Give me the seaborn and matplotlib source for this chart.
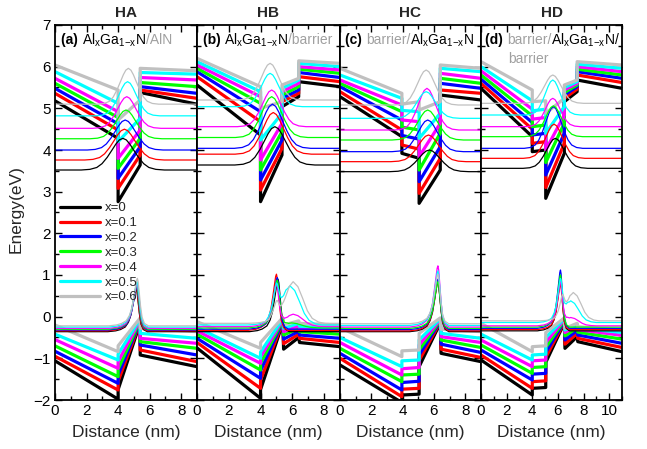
import numpy as np
import pandas as pd
import seaborn as sns
import matplotlib
matplotlib.use("Agg")
import matplotlib.pyplot as plt
from matplotlib.lines import Line2D
from matplotlib.ticker import MultipleLocator
import matplotlib.transforms as mtransforms

# ---------------- data ----------------
x_labels = ["x=0", "x=0.1", "x=0.2", "x=0.3", "x=0.4", "x=0.5", "x=0.6"]
colors = ["#000000", "#ff0000", "#0000ff", "#00ff00", "#ff00ff", "#00ffff", "#c0c0c0"]
panel_titles = ["HA", "HB", "HC", "HD"]
panel_xmax = [9, 9, 9, 11]

# Panel (a): band edges (vertex positions / energies for each x)
a_cb_d = [0, 4, 4, 5.4, 5.4, 9]
a_cb = [[5.18, 4.28, 2.76, 3.64, 5.38, 5.10],
        [5.36, 4.48, 3.08, 3.88, 5.44, 5.24],
        [5.48, 4.63, 3.32, 4.08, 5.52, 5.36],
        [5.60, 4.78, 3.56, 4.28, 5.62, 5.52],
        [5.72, 4.92, 3.80, 4.48, 5.74, 5.68],
        [5.88, 5.12, 4.20, 4.76, 5.86, 5.82],
        [6.04, 5.44, 4.72, 5.20, 5.96, 5.90]]
a_vb_d = [0, 4, 4, 5.4, 5.4, 9]
a_vb = [[-1.06, -1.98, -1.75, -0.15, -0.92, -1.20],
        [-0.95, -1.76, -1.55, -0.13, -0.80, -1.08],
        [-0.83, -1.60, -1.40, -0.11, -0.68, -0.92],
        [-0.70, -1.44, -1.26, -0.09, -0.60, -0.76],
        [-0.55, -1.24, -1.08, -0.07, -0.52, -0.64],
        [-0.42, -1.04, -0.90, -0.05, -0.40, -0.52],
        [-0.20, -0.84, -0.70, -0.03, -0.28, -0.36]]
a_el_base = [3.52, 3.76, 4.00, 4.27, 4.52, 4.82, 5.10]
a_el_peak = [4.28, 4.50, 4.72, 4.96, 5.28, 5.64, 5.96]
a_el_pos = [4.30, 4.40, 4.45, 4.50, 4.55, 4.60, 4.65]
a_el_w = [1.10, 1.05, 1.00, 0.95, 0.90, 0.85, 0.80]
a_h_base = [-0.36, -0.34, -0.32, -0.30, -0.28, -0.25, -0.22]
a_h_amp1 = [1.02, 1.04, 1.04, 1.06, 1.08, 1.09, 1.14]
a_h_pos1 = [5.15, 5.15, 5.18, 5.18, 5.20, 5.20, 5.22]
a_h_amp2 = [0, 0, 0, 0, 0, 0, 0]
a_h_pos2 = [6.0, 6.0, 6.0, 6.0, 6.0, 6.0, 6.0]

# Panel (b)
b_cb_d = [0, 4, 4, 5.35, 5.35, 6.4, 6.4, 9]
b_cb = [[5.56, 4.36, 2.76, 3.88, 5.04, 5.28, 5.64, 5.52],
        [5.76, 4.68, 3.04, 4.04, 5.16, 5.36, 5.76, 5.64],
        [5.88, 4.92, 3.28, 4.24, 5.24, 5.44, 5.86, 5.74],
        [5.96, 5.12, 3.52, 4.44, 5.32, 5.52, 5.94, 5.84],
        [6.04, 5.28, 3.76, 4.64, 5.40, 5.60, 6.00, 5.92],
        [6.12, 5.40, 4.24, 4.88, 5.48, 5.68, 6.08, 6.00],
        [6.20, 5.52, 5.00, 5.16, 5.56, 5.72, 6.14, 6.08]]
b_vb_d = [0, 4, 4, 5.4, 5.45, 6.4, 6.45, 9]
b_vb = [[-0.75, -1.96, -1.75, -0.15, -0.78, -0.50, -0.62, -0.72],
        [-0.62, -1.72, -1.52, -0.13, -0.65, -0.42, -0.52, -0.62],
        [-0.52, -1.48, -1.30, -0.11, -0.54, -0.35, -0.44, -0.52],
        [-0.42, -1.28, -1.12, -0.09, -0.44, -0.28, -0.36, -0.42],
        [-0.34, -1.12, -0.97, -0.07, -0.36, -0.22, -0.29, -0.34],
        [-0.26, -1.00, -0.85, -0.05, -0.28, -0.16, -0.23, -0.28],
        [-0.12, -0.76, -0.62, -0.02, -0.20, -0.10, -0.16, -0.20]]
b_el_base = [3.64, 3.90, 4.04, 4.30, 4.56, 5.04, 5.20]
b_el_peak = [4.56, 4.90, 5.10, 5.28, 5.44, 5.84, 6.08]
b_el_pos = [4.90, 4.80, 4.75, 4.70, 4.70, 4.60, 4.60]
b_el_w = [1.05, 1.00, 1.00, 0.95, 0.90, 0.85, 0.85]
b_h_base = [-0.36, -0.33, -0.30, -0.27, -0.24, -0.20, -0.16]
b_h_amp1 = [1.26, 1.35, 1.24, 1.12, 0.98, 0.76, 0.41]
b_h_pos1 = [5.10, 5.00, 5.05, 5.05, 5.00, 5.00, 5.00]
b_h_amp2 = [0, 0, 0, 0.12, 0.30, 0.94, 1.00]
b_h_pos2 = [6.0, 6.0, 6.0, 5.95, 6.05, 5.85, 6.05]

# Panel (c)
c_cb_d = [0, 3.95, 3.95, 5.05, 5.05, 6.4, 6.4, 9]
c_cb = [[5.28, 4.32, 3.92, 3.80, 2.72, 3.52, 5.32, 5.20],
        [5.40, 4.48, 4.12, 4.02, 2.96, 3.80, 5.44, 5.36],
        [5.52, 4.72, 4.35, 4.26, 3.24, 4.08, 5.60, 5.48],
        [5.60, 4.92, 4.55, 4.48, 3.52, 4.40, 5.72, 5.60],
        [5.68, 5.08, 4.72, 4.68, 3.84, 4.64, 5.84, 5.72],
        [5.80, 5.24, 4.95, 4.92, 4.28, 4.88, 5.96, 5.88],
        [5.96, 5.36, 5.10, 5.16, 4.96, 5.16, 6.04, 5.96]]
c_vb_d = [0, 3.95, 3.95, 5.05, 5.05, 6.4, 6.45, 9]
c_vb = [[-1.16, -2.06, -1.88, -1.86, -1.20, -0.15, -0.88, -1.08],
        [-1.00, -1.92, -1.74, -1.72, -1.05, -0.13, -0.78, -0.98],
        [-0.88, -1.76, -1.58, -1.55, -0.92, -0.11, -0.66, -0.86],
        [-0.76, -1.56, -1.40, -1.38, -0.80, -0.09, -0.56, -0.74],
        [-0.62, -1.40, -1.25, -1.22, -0.68, -0.07, -0.48, -0.62],
        [-0.50, -1.20, -1.06, -1.04, -0.56, -0.05, -0.40, -0.52],
        [-0.26, -0.96, -0.82, -0.80, -0.40, -0.03, -0.30, -0.36]]
c_el_base = [3.48, 3.72, 3.96, 4.24, 4.48, 4.76, 5.08]
c_el_peak = [4.00, 4.36, 4.72, 4.96, 5.48, 5.40, 5.92]
c_el_pos = [5.70, 5.65, 5.60, 5.60, 5.55, 5.50, 5.50]
c_el_w = [1.05, 1.00, 0.95, 0.95, 0.85, 0.90, 0.85]
c_h_base = [-0.36, -0.34, -0.31, -0.28, -0.25, -0.21, -0.17]
c_h_amp1 = [1.20, 1.20, 1.21, 1.12, 1.47, 1.31, 1.19]
c_h_pos1 = [6.25, 6.25, 6.25, 6.25, 6.25, 6.25, 6.25]
c_h_amp2 = [0, 0, 0, 0, 0, 0, 0]
c_h_pos2 = [7.0, 7.0, 7.0, 7.0, 7.0, 7.0, 7.0]

# Panel (d)
d_cb_d = [0, 4, 4, 5.05, 5.05, 6.5, 6.5, 7.5, 7.5, 11]
d_cb = [[5.48, 4.32, 3.96, 4.00, 2.84, 3.92, 5.16, 5.40, 5.68, 5.48],
        [5.60, 4.50, 4.16, 4.20, 3.10, 4.16, 5.24, 5.46, 5.80, 5.62],
        [5.70, 4.66, 4.36, 4.40, 3.40, 4.40, 5.32, 5.52, 5.88, 5.72],
        [5.80, 4.82, 4.56, 4.60, 3.70, 4.64, 5.38, 5.56, 5.94, 5.80],
        [5.90, 4.98, 4.74, 4.78, 4.00, 4.84, 5.44, 5.60, 6.00, 5.88],
        [6.00, 5.18, 4.94, 4.98, 4.40, 5.04, 5.50, 5.64, 6.06, 5.96],
        [6.12, 5.44, 5.16, 5.18, 4.88, 5.24, 5.56, 5.68, 6.12, 6.04]]
d_vb_d = [0, 4, 4, 5.05, 5.05, 6.5, 6.55, 7.5, 7.55, 11]
d_vb = [[-1.04, -1.88, -1.72, -1.70, -1.10, -0.15, -0.76, -0.48, -0.60, -0.84],
        [-0.92, -1.72, -1.56, -1.54, -0.98, -0.13, -0.66, -0.40, -0.52, -0.74],
        [-0.80, -1.52, -1.38, -1.36, -0.86, -0.11, -0.56, -0.33, -0.44, -0.64],
        [-0.68, -1.36, -1.22, -1.20, -0.74, -0.09, -0.46, -0.27, -0.37, -0.54],
        [-0.56, -1.20, -1.06, -1.04, -0.62, -0.07, -0.38, -0.22, -0.31, -0.45],
        [-0.42, -1.04, -0.92, -0.90, -0.50, -0.05, -0.32, -0.18, -0.27, -0.38],
        [-0.16, -0.84, -0.72, -0.70, -0.38, -0.03, -0.28, -0.16, -0.24, -0.32]]
d_el_base = [3.56, 3.80, 4.04, 4.32, 4.56, 4.84, 5.12]
d_el_peak = [4.28, 4.62, 5.04, 5.06, 5.24, 5.68, 5.80]
d_el_pos = [5.80, 5.70, 5.65, 5.65, 5.60, 5.60, 5.60]
d_el_w = [1.05, 1.00, 0.95, 0.95, 0.90, 0.90, 1.00]
d_h_base = [-0.34, -0.31, -0.28, -0.25, -0.22, -0.14, -0.10]
d_h_amp1 = [1.22, 1.10, 1.40, 1.25, 1.00, 0.90, 0.45]
d_h_pos1 = [6.20, 6.20, 6.20, 6.20, 6.20, 6.20, 6.35]
d_h_amp2 = [0, 0, 0, 0, 0.20, 0.52, 0.68]
d_h_pos2 = [7.0, 7.0, 7.0, 7.0, 7.0, 7.0, 7.2]

# wavefunction shapes (offset in nm -> fraction of peak)
el_off = [-2.4, -1.9, -1.5, -1.2, -0.9, -0.6, -0.4, -0.2, 0, 0.2, 0.4, 0.6, 0.9, 1.2, 1.5, 1.9, 2.4]
el_val = [0, 0.02, 0.08, 0.2, 0.4, 0.65, 0.82, 0.95, 1, 0.95, 0.82, 0.65, 0.4, 0.2, 0.08, 0.02, 0]
h1_off = [-1.8, -1.3, -1.0, -0.7, -0.5, -0.35, -0.22, -0.12, -0.05, 0, 0.05, 0.12, 0.2, 0.3, 0.45, 0.7]
h1_val = [0, 0.02, 0.05, 0.11, 0.22, 0.38, 0.62, 0.82, 0.96, 1, 0.93, 0.7, 0.42, 0.18, 0.05, 0]
h2_off = [-1.5, -1.1, -0.8, -0.5, -0.25, 0, 0.3, 0.6, 0.9, 1.2, 1.6, 2.0]
h2_val = [0, 0.1, 0.3, 0.6, 0.88, 1, 0.88, 0.6, 0.3, 0.12, 0.03, 0]

panels = [
    dict(cb_d=a_cb_d, cb=a_cb, vb_d=a_vb_d, vb=a_vb, eb=a_el_base, ep=a_el_peak, epos=a_el_pos, ew=a_el_w,
         hb=a_h_base, ha1=a_h_amp1, hp1=a_h_pos1, ha2=a_h_amp2, hp2=a_h_pos2),
    dict(cb_d=b_cb_d, cb=b_cb, vb_d=b_vb_d, vb=b_vb, eb=b_el_base, ep=b_el_peak, epos=b_el_pos, ew=b_el_w,
         hb=b_h_base, ha1=b_h_amp1, hp1=b_h_pos1, ha2=b_h_amp2, hp2=b_h_pos2),
    dict(cb_d=c_cb_d, cb=c_cb, vb_d=c_vb_d, vb=c_vb, eb=c_el_base, ep=c_el_peak, epos=c_el_pos, ew=c_el_w,
         hb=c_h_base, ha1=c_h_amp1, hp1=c_h_pos1, ha2=c_h_amp2, hp2=c_h_pos2),
    dict(cb_d=d_cb_d, cb=d_cb, vb_d=d_vb_d, vb=d_vb, eb=d_el_base, ep=d_el_peak, epos=d_el_pos, ew=d_el_w,
         hb=d_h_base, ha1=d_h_amp1, hp1=d_h_pos1, ha2=d_h_amp2, hp2=d_h_pos2),
]

# ---------------- style ----------------
sns.set_theme(style="ticks")
plt.rcParams["font.family"] = ["Liberation Sans", "DejaVu Sans"]
plt.rcParams["mathtext.fontset"] = "custom"
plt.rcParams["mathtext.rm"] = "Liberation Sans"
plt.rcParams["mathtext.it"] = "Liberation Sans"
plt.rcParams["mathtext.bf"] = "Liberation Sans:bold"

W, H = 647, 449
fig = plt.figure(figsize=(W / 100, H / 100), dpi=100)
lefts = [55, 197, 340, 481]
rights = [197, 340, 481, 622]
top_px, bot_px = 25, 400
gray_txt = "#a0a0a0"


def wave_points(xmax, pos_list, amp_list, offs_list, vals_list, base):
    pts = {0.0, float(xmax)}
    for pos, amp, offs in zip(pos_list, amp_list, offs_list):
        if amp > 0:
            for o in offs:
                p = pos + o
                if 0 < p < xmax:
                    pts.add(round(p, 4))
    dd = np.array(sorted(pts))
    ee = np.full(len(dd), float(base))
    for pos, amp, offs, vals in zip(pos_list, amp_list, offs_list, vals_list):
        if amp > 0:
            ee += amp * np.interp(dd - pos, offs, vals, left=0, right=0)
    return dd, ee


bands_rows, wave_rows = [], []
for pi, P in enumerate(panels):
    xmax = panel_xmax[pi]
    for i, lab in enumerate(x_labels):
        for kind, dlist, elist in (("cb", P["cb_d"], P["cb"][i]), ("vb", P["vb_d"], P["vb"][i])):
            for k, (dv, ev) in enumerate(zip(dlist, elist)):
                bands_rows.append((pi, lab, f"{kind}{i}", k, dv, ev))
        w = P["ew"][i]
        dd, ee = wave_points(xmax, [P["epos"][i]], [P["ep"][i] - P["eb"][i]],
                             [[o * w for o in el_off]], [el_val], P["eb"][i])
        for k, (dv, ev) in enumerate(zip(dd, ee)):
            wave_rows.append((pi, lab, f"el{i}", k, dv, ev))
        dd, ee = wave_points(xmax, [P["hp1"][i], P["hp2"][i]], [P["ha1"][i], P["ha2"][i]],
                             [h1_off, h2_off], [h1_val, h2_val], P["hb"][i])
        for k, (dv, ev) in enumerate(zip(dd, ee)):
            wave_rows.append((pi, lab, f"h{i}", k, dv, ev))

cols = ["panel", "x", "cid", "order", "d", "E"]
bands_df = pd.DataFrame(bands_rows, columns=cols)
wave_df = pd.DataFrame(wave_rows, columns=cols)
palette = dict(zip(x_labels, colors))

axes = []
for pi in range(4):
    l, r = lefts[pi], rights[pi]
    ax = fig.add_axes([l / W, (H - bot_px) / H, (r - l) / W, (bot_px - top_px) / H])
    axes.append(ax)
    bsub = bands_df[bands_df.panel == pi].sort_values(["cid", "order"])
    wsub = wave_df[wave_df.panel == pi].sort_values(["cid", "order"])
    sns.lineplot(data=bsub, x="d", y="E", hue="x", hue_order=x_labels, units="cid",
                 estimator=None, sort=False, palette=palette, linewidth=2.3,
                 legend=False, ax=ax)
    sns.lineplot(data=wsub, x="d", y="E", hue="x", hue_order=x_labels, units="cid",
                 estimator=None, sort=False, palette=palette, linewidth=0.9,
                 legend=False, ax=ax)
    ax.set_xlim(0, panel_xmax[pi])
    ax.set_ylim(-2, 7)
    ax.xaxis.set_major_locator(MultipleLocator(2))
    ax.xaxis.set_minor_locator(MultipleLocator(1))
    ax.yaxis.set_major_locator(MultipleLocator(1))
    ax.yaxis.set_minor_locator(MultipleLocator(0.5))
    ax.tick_params(which="both", direction="in", top=True, right=True, width=1.0,
                   labelsize=11, colors="black")
    ax.tick_params(which="major", length=5, pad=3)
    ax.tick_params(which="minor", length=3)
    for sp in ax.spines.values():
        sp.set_linewidth(1.3)
        sp.set_color("black")
        sp.set_visible(True)
    ax.set_xlabel("")
    ax.set_ylabel("")
    if pi > 0:
        ax.tick_params(axis="y", labelleft=False)
    ax.set_title(panel_titles[pi], fontsize=11, fontweight="bold", pad=6)
    ax.text(0.5, -0.087, "Distance (nm)", transform=ax.transAxes, ha="center",
            va="center", fontsize=12.5)

fig.text(0.025, 0.535, "Energy(eV)", rotation=90, ha="center", va="center", fontsize=12.5)

renderer = fig.canvas.get_renderer()
FORM = r"$\mathregular{Al_xGa_{1\!-\!x}N}$"


def rich(ax, x, y, parts, size=10):
    tr = ax.transAxes
    for s, c, w in parts:
        t = ax.text(x, y, s, color=c, fontweight=w, transform=tr, va="baseline",
                    ha="left", fontsize=size)
        bb = t.get_window_extent(renderer=renderer)
        tr = mtransforms.offset_copy(tr, x=bb.width, y=0, units="dots")


rich(axes[0], 0.045, 0.948, [("(a) ", "black", "bold"), (FORM, "black", "normal"),
                              ("/AlN", gray_txt, "normal")])
rich(axes[1], 0.04, 0.948, [("(b) ", "black", "bold"), (FORM, "black", "normal"),
                             ("/barrier", gray_txt, "normal")])
rich(axes[2], 0.035, 0.948, [("(c) ", "black", "bold"), ("barrier/", gray_txt, "normal"),
                              (FORM, "black", "normal")])
rich(axes[3], 0.03, 0.948, [("(d) ", "black", "bold"), ("barrier/", gray_txt, "normal"),
                             (FORM, "black", "normal"), ("/", "black", "normal")])
axes[3].text(0.19, 0.898, "barrier", color=gray_txt, fontsize=10, transform=axes[3].transAxes,
             va="baseline", ha="left")

handles = [Line2D([], [], color=c, lw=2.3) for c in colors]
axes[0].legend(handles, x_labels, loc="upper left", bbox_to_anchor=(0.02, 0.535),
               frameon=False, fontsize=9.5, handlelength=3.0, handletextpad=0.4,
               labelspacing=0.2, borderpad=0.2, borderaxespad=0)

fig.savefig("out.png", dpi=100)
